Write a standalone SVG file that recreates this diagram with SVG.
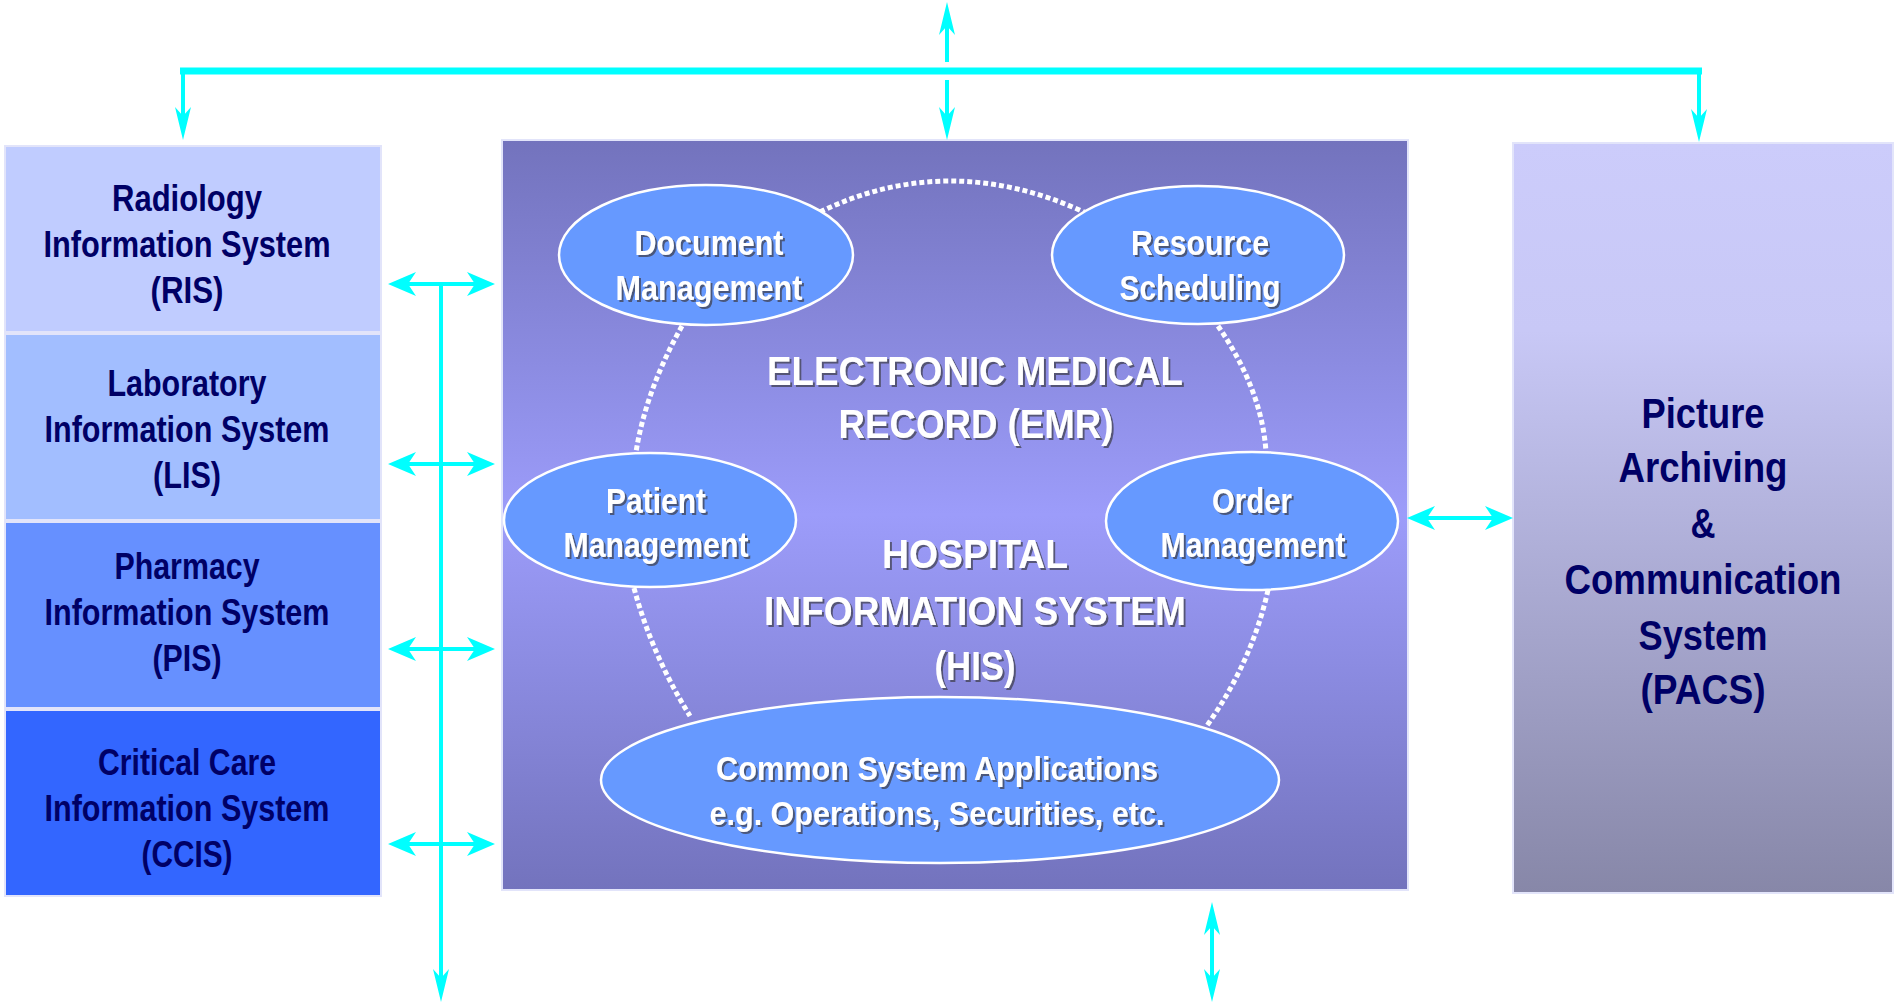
<svg xmlns="http://www.w3.org/2000/svg" width="1895" height="1003" viewBox="0 0 1895 1003">
<style>
.t{font-family:"Liberation Sans",Arial,sans-serif;font-weight:bold;text-anchor:middle}
.dk{fill:#000066;font-size:36px}
.pa{fill:#000066;font-size:43px}
.wh{fill:#ffffff;font-size:35px;filter:url(#ts)}
.big{fill:#ffffff;font-size:41px;filter:url(#ts)}
.cm{fill:#ffffff;font-size:33px;filter:url(#ts)}
.box{stroke:#E2E4FA;stroke-width:2}
.ell{fill:#6699FF;stroke:#ffffff;stroke-width:2.5}
.bus{stroke:#00FFFF;stroke-width:4;fill:none}
.dot{stroke:#ffffff;stroke-width:5;fill:none;stroke-dasharray:5 3}
</style>
<defs>
<linearGradient id="gHis" x1="0" y1="0" x2="0" y2="1">
<stop offset="0" stop-color="#7373BD"/>
<stop offset="0.5" stop-color="#9C9CFA"/>
<stop offset="1" stop-color="#7373BD"/>
</linearGradient>
<linearGradient id="gPacs" x1="0" y1="0" x2="0" y2="1">
<stop offset="0" stop-color="#CCCCFB"/>
<stop offset="0.25" stop-color="#C8C8F6"/>
<stop offset="1" stop-color="#8787A8"/>
</linearGradient>
<filter id="ts" x="-10%" y="-30%" width="120%" height="160%">
<feDropShadow dx="2" dy="2" stdDeviation="0.7" flood-color="#404050" flood-opacity="0.75"/>
</filter>
<marker id="ah" viewBox="-25 -15 40 30" markerWidth="40" markerHeight="30" refX="0" refY="0" orient="auto-start-reverse" markerUnits="userSpaceOnUse">
<path d="M 8 0 L -20 -12 L -12 0 L -20 12 Z" fill="#00FFFF"/>
</marker>
<marker id="av" viewBox="-30 -12 45 24" markerWidth="45" markerHeight="24" refX="0" refY="0" orient="auto-start-reverse" markerUnits="userSpaceOnUse">
<path d="M 8 0 L -25 -8 L -16 0 L -25 8 Z" fill="#00FFFF"/>
</marker>
</defs>

<g id="node-ris">
<rect class="box" x="5" y="146" width="376" height="186" fill="#C0CCFF"/>
<text class="t dk" x="187" y="211" textLength="150" lengthAdjust="spacingAndGlyphs">Radiology</text>
<text class="t dk" x="187" y="257" textLength="287" lengthAdjust="spacingAndGlyphs">Information System</text>
<text class="t dk" x="187" y="303" textLength="73" lengthAdjust="spacingAndGlyphs">(RIS)</text>
</g>
<g id="node-lis">
<rect class="box" x="5" y="334" width="376" height="186" fill="#A2BEFF"/>
<text class="t dk" x="187" y="396" textLength="159" lengthAdjust="spacingAndGlyphs">Laboratory</text>
<text class="t dk" x="187" y="442" textLength="285" lengthAdjust="spacingAndGlyphs">Information System</text>
<text class="t dk" x="187" y="488" textLength="68" lengthAdjust="spacingAndGlyphs">(LIS)</text>
</g>
<g id="node-pis">
<rect class="box" x="5" y="522" width="376" height="186" fill="#6690FF"/>
<text class="t dk" x="187" y="579" textLength="145" lengthAdjust="spacingAndGlyphs">Pharmacy</text>
<text class="t dk" x="187" y="625" textLength="285" lengthAdjust="spacingAndGlyphs">Information System</text>
<text class="t dk" x="187" y="671" textLength="69" lengthAdjust="spacingAndGlyphs">(PIS)</text>
</g>
<g id="node-ccis">
<rect class="box" x="5" y="710" width="376" height="186" fill="#3366FF"/>
<text class="t dk" x="187" y="775" textLength="178" lengthAdjust="spacingAndGlyphs">Critical Care</text>
<text class="t dk" x="187" y="821" textLength="285" lengthAdjust="spacingAndGlyphs">Information System</text>
<text class="t dk" x="187" y="867" textLength="91" lengthAdjust="spacingAndGlyphs">(CCIS)</text>
</g>

<g id="node-his">
<rect class="box" x="502" y="140" width="906" height="750" fill="url(#gHis)"/>
<text class="t big" x="975" y="385" textLength="416" lengthAdjust="spacingAndGlyphs">ELECTRONIC MEDICAL</text>
<text class="t big" x="976" y="438" textLength="275" lengthAdjust="spacingAndGlyphs">RECORD (EMR)</text>
<text class="t big" x="975" y="568" textLength="186" lengthAdjust="spacingAndGlyphs">HOSPITAL</text>
<text class="t big" x="975" y="625" textLength="422" lengthAdjust="spacingAndGlyphs">INFORMATION SYSTEM</text>
<text class="t big" x="975" y="680" textLength="81" lengthAdjust="spacingAndGlyphs">(HIS)</text>
</g>

<g id="node-pacs">
<rect class="box" x="1513" y="143" width="380" height="750" fill="url(#gPacs)"/>
<text class="t pa" x="1703" y="428" textLength="123" lengthAdjust="spacingAndGlyphs">Picture</text>
<text class="t pa" x="1703" y="482" textLength="169" lengthAdjust="spacingAndGlyphs">Archiving</text>
<text class="t pa" x="1703" y="538" textLength="25" lengthAdjust="spacingAndGlyphs">&amp;</text>
<text class="t pa" x="1703" y="594" textLength="277" lengthAdjust="spacingAndGlyphs">Communication</text>
<text class="t pa" x="1703" y="650" textLength="129" lengthAdjust="spacingAndGlyphs">System</text>
<text class="t pa" x="1703" y="704" textLength="125" lengthAdjust="spacingAndGlyphs">(PACS)</text>
</g>

<g id="connectors">
<path class="dot" d="M 820 212 Q 948 150 1084 212"/>
<path class="dot" d="M 682 326 Q 646 390 636 452"/>
<path class="dot" d="M 1218 326 Q 1262 390 1266 452"/>
<path class="dot" d="M 634 588 Q 652 655 690 716"/>
<path class="dot" d="M 1268 590 Q 1252 662 1206 727"/>

<line x1="180" y1="71" x2="1702" y2="71" stroke="#00FFFF" stroke-width="7"/>
<line class="bus" x1="183" y1="71" x2="183" y2="132" marker-end="url(#av)"/>
<line class="bus" x1="1699" y1="71" x2="1699" y2="134" marker-end="url(#av)"/>
<line class="bus" x1="947" y1="62" x2="947" y2="10" marker-end="url(#av)"/>
<line class="bus" x1="947" y1="80" x2="947" y2="132" marker-end="url(#av)"/>

<line class="bus" x1="441" y1="282" x2="441" y2="994" marker-end="url(#av)"/>
<line class="bus" x1="396" y1="284" x2="487" y2="284" marker-start="url(#ah)" marker-end="url(#ah)"/>
<line class="bus" x1="396" y1="464" x2="487" y2="464" marker-start="url(#ah)" marker-end="url(#ah)"/>
<line class="bus" x1="396" y1="649" x2="487" y2="649" marker-start="url(#ah)" marker-end="url(#ah)"/>
<line class="bus" x1="396" y1="844" x2="487" y2="844" marker-start="url(#ah)" marker-end="url(#ah)"/>

<line class="bus" x1="1415" y1="518" x2="1505" y2="518" marker-start="url(#ah)" marker-end="url(#ah)"/>
<line class="bus" x1="1212" y1="910" x2="1212" y2="994" marker-start="url(#av)" marker-end="url(#av)"/>
</g>

<g id="node-document">
<ellipse class="ell" cx="706" cy="255" rx="147" ry="70"/>
<text class="t wh" x="709" y="255" textLength="149" lengthAdjust="spacingAndGlyphs">Document</text>
<text class="t wh" x="709" y="300" textLength="187" lengthAdjust="spacingAndGlyphs">Management</text>
</g>
<g id="node-resource">
<ellipse class="ell" cx="1198" cy="255" rx="146" ry="69"/>
<text class="t wh" x="1200" y="255" textLength="138" lengthAdjust="spacingAndGlyphs">Resource</text>
<text class="t wh" x="1200" y="300" textLength="161" lengthAdjust="spacingAndGlyphs">Scheduling</text>
</g>
<g id="node-patient">
<ellipse class="ell" cx="650" cy="520" rx="146" ry="67"/>
<text class="t wh" x="656" y="513" textLength="100" lengthAdjust="spacingAndGlyphs">Patient</text>
<text class="t wh" x="656" y="557" textLength="185" lengthAdjust="spacingAndGlyphs">Management</text>
</g>
<g id="node-order">
<ellipse class="ell" cx="1252" cy="521" rx="146" ry="69"/>
<text class="t wh" x="1252" y="513" textLength="80" lengthAdjust="spacingAndGlyphs">Order</text>
<text class="t wh" x="1253" y="557" textLength="185" lengthAdjust="spacingAndGlyphs">Management</text>
</g>
<g id="node-common">
<ellipse class="ell" cx="940" cy="780" rx="339" ry="83"/>
<text class="t cm" x="937" y="780" textLength="442" lengthAdjust="spacingAndGlyphs">Common System Applications</text>
<text class="t cm" x="937" y="825" textLength="455" lengthAdjust="spacingAndGlyphs">e.g. Operations, Securities, etc.</text>
</g>
</svg>
